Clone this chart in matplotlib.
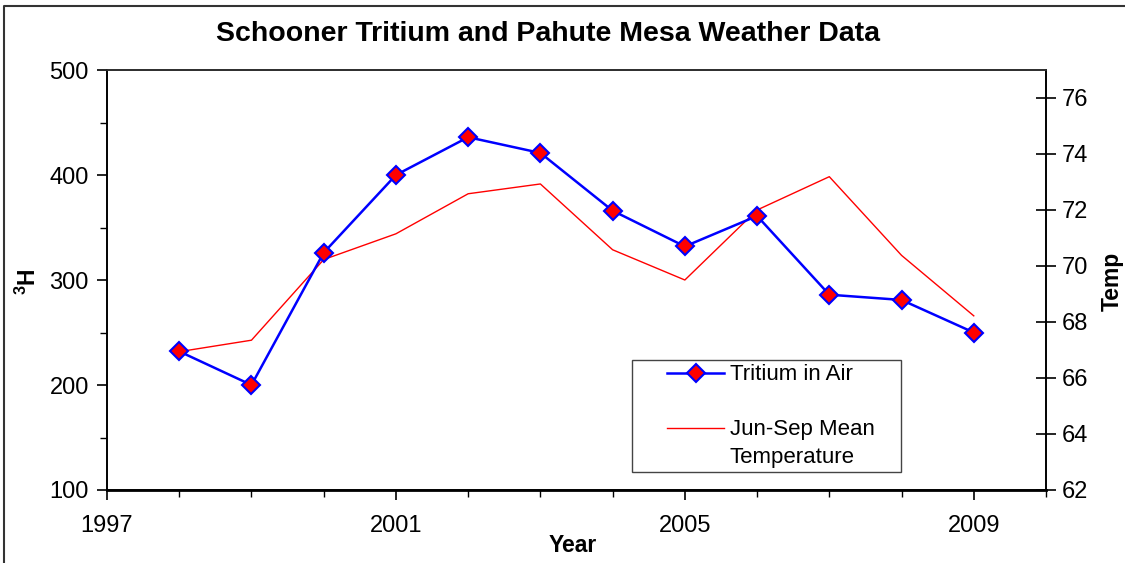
import matplotlib
matplotlib.use("Agg")
import numpy as np
import matplotlib.pyplot as plt
from matplotlib.lines import Line2D
from matplotlib.legend_handler import HandlerLine2D
from matplotlib.ticker import MultipleLocator, FixedLocator

plt.rcParams['font.family'] = ['Liberation Sans', 'DejaVu Sans']
plt.rcParams['mathtext.fontset'] = 'custom'
plt.rcParams['mathtext.rm'] = 'Liberation Sans'
plt.rcParams['mathtext.bf'] = 'Liberation Sans:bold'

years = [1998, 1999, 2000, 2001, 2002, 2003, 2004, 2005, 2006, 2007, 2008, 2009]
tritium = [232, 200, 326, 400, 436, 421, 366, 332, 361, 286, 281, 250]
temperature = [66.94, 67.35, 70.23, 71.15, 72.58, 72.93, 70.58, 69.5, 72.0, 73.19, 70.38, 68.22]
x_ticks = [1997, 2001, 2005, 2009]
left_ticks = [100, 200, 300, 400, 500]
right_ticks = [62, 64, 66, 68, 70, 72, 74, 76]

W, H = 1125, 563
PT = 72 / 100  # points per pixel


class OffsetHandler(HandlerLine2D):
    """Line handle drawn in the right part of the handle box, optionally raised."""
    def __init__(self, xstart_pt, yoff_pt=0.0, **kw):
        super().__init__(**kw)
        self.xstart_pt = xstart_pt
        self.yoff_pt = yoff_pt

    def create_artists(self, legend, orig_handle, xdescent, ydescent,
                       width, height, fontsize, trans):
        artists = super().create_artists(legend, orig_handle, xdescent, ydescent,
                                         width, height, fontsize, trans)
        for a in artists:
            if isinstance(a, Line2D):
                xd = np.asarray(a.get_xdata(), float)
                x0, x1 = -xdescent + self.xstart_pt, width - xdescent
                a.set_xdata(np.linspace(x0, x1, len(xd)))
                a.set_ydata(np.asarray(a.get_ydata(), float) + self.yoff_pt)
        return artists


fig = plt.figure(figsize=(W / 100, H / 100), dpi=100)
ax = fig.add_axes([107 / W, 1 - 490 / H, (1046 - 107) / W, (490 - 70) / H])
ax2 = ax.twinx()

l1, = ax.plot(years, tritium, color='#0000ff', lw=1.8, marker='D', ms=9,
              mfc='#ff0000', mec='#0000ff', mew=1.5, zorder=3, label='Tritium in Air')
l2, = ax2.plot(years, temperature, color='#ff0000', lw=1.0, label='Jun-Sep Mean\nTemperature')
ax.set_zorder(ax2.get_zorder() + 1)
ax.patch.set_visible(False)

ax.set_xlim(1997, 2010)
ax.set_ylim(100, 500)
ax2.set_ylim(62, 77)
ax.xaxis.set_major_locator(FixedLocator(x_ticks))
ax.xaxis.set_minor_locator(MultipleLocator(1))
ax.yaxis.set_major_locator(FixedLocator(left_ticks))
ax.yaxis.set_minor_locator(MultipleLocator(50))
ax2.yaxis.set_major_locator(FixedLocator(right_ticks))

ax.tick_params(axis='both', which='major', labelsize=17, length=7, width=1.2, direction='out')
ax.tick_params(axis='both', which='minor', length=5, width=1.0, direction='out')
ax.tick_params(axis='x', which='major', pad=11)
ax.tick_params(axis='y', which='major', pad=6)
ax2.tick_params(axis='y', which='major', labelsize=17, length=14, width=1.2,
                direction='inout', pad=4)

for a in (ax, ax2):
    for s in a.spines.values():
        s.set_linewidth(1.2)
        s.set_color('black')
ax.spines['bottom'].set_linewidth(2)
ax.spines['top'].set_color('#333333')

fs = 16
fs_px = fs / PT
bp = 0.2
handle_start_px = 668 - 632 - bp * fs_px - 1
handle_len_px = 725 - 668
leg = ax.legend(handles=[l1, l2], loc='upper left', mode='expand',
                bbox_to_anchor=(632 / W, 1 - 474 / H, (901 - 632) / W, (474 - 360) / H),
                bbox_transform=fig.transFigure, fontsize=fs, frameon=True, fancybox=False,
                edgecolor='#444444', framealpha=1,
                handlelength=(handle_start_px + handle_len_px) / fs_px,
                handletextpad=0.25, labelspacing=1.5, borderpad=bp, borderaxespad=0,
                handler_map={l1: OffsetHandler(handle_start_px * PT, 0.0),
                             l2: OffsetHandler(handle_start_px * PT, 0.6 * fs + 1.5)})
leg.get_frame().set_linewidth(1.0)
leg.get_texts()[1].set_linespacing(1.45)
leg.set_zorder(10)

fig.text(548 / W, 1 - 34 / H, 'Schooner Tritium and Pahute Mesa Weather Data',
         ha='center', va='center', fontsize=20.5, fontweight='bold')
fig.text(573 / W, 1 - 545 / H, 'Year', ha='center', va='center', fontsize=16.5, fontweight='bold')
fig.text(28 / W, 1 - 282 / H, r'$\mathbf{^{3}H}$', ha='center', va='center', fontsize=16.5,
         rotation=90)
fig.text(1112 / W, 1 - 281 / H, 'Temp', ha='center', va='center', fontsize=16.5,
         fontweight='bold', rotation=90)

# outer frame: only top and left edges are visible in the reference
fig.add_artist(Line2D([4 / W, 4 / W, 1.0], [0.0, 1 - 6 / H, 1 - 6 / H],
                      transform=fig.transFigure, color='#333333', lw=1.5))

fig.savefig('out.png', dpi=100)
